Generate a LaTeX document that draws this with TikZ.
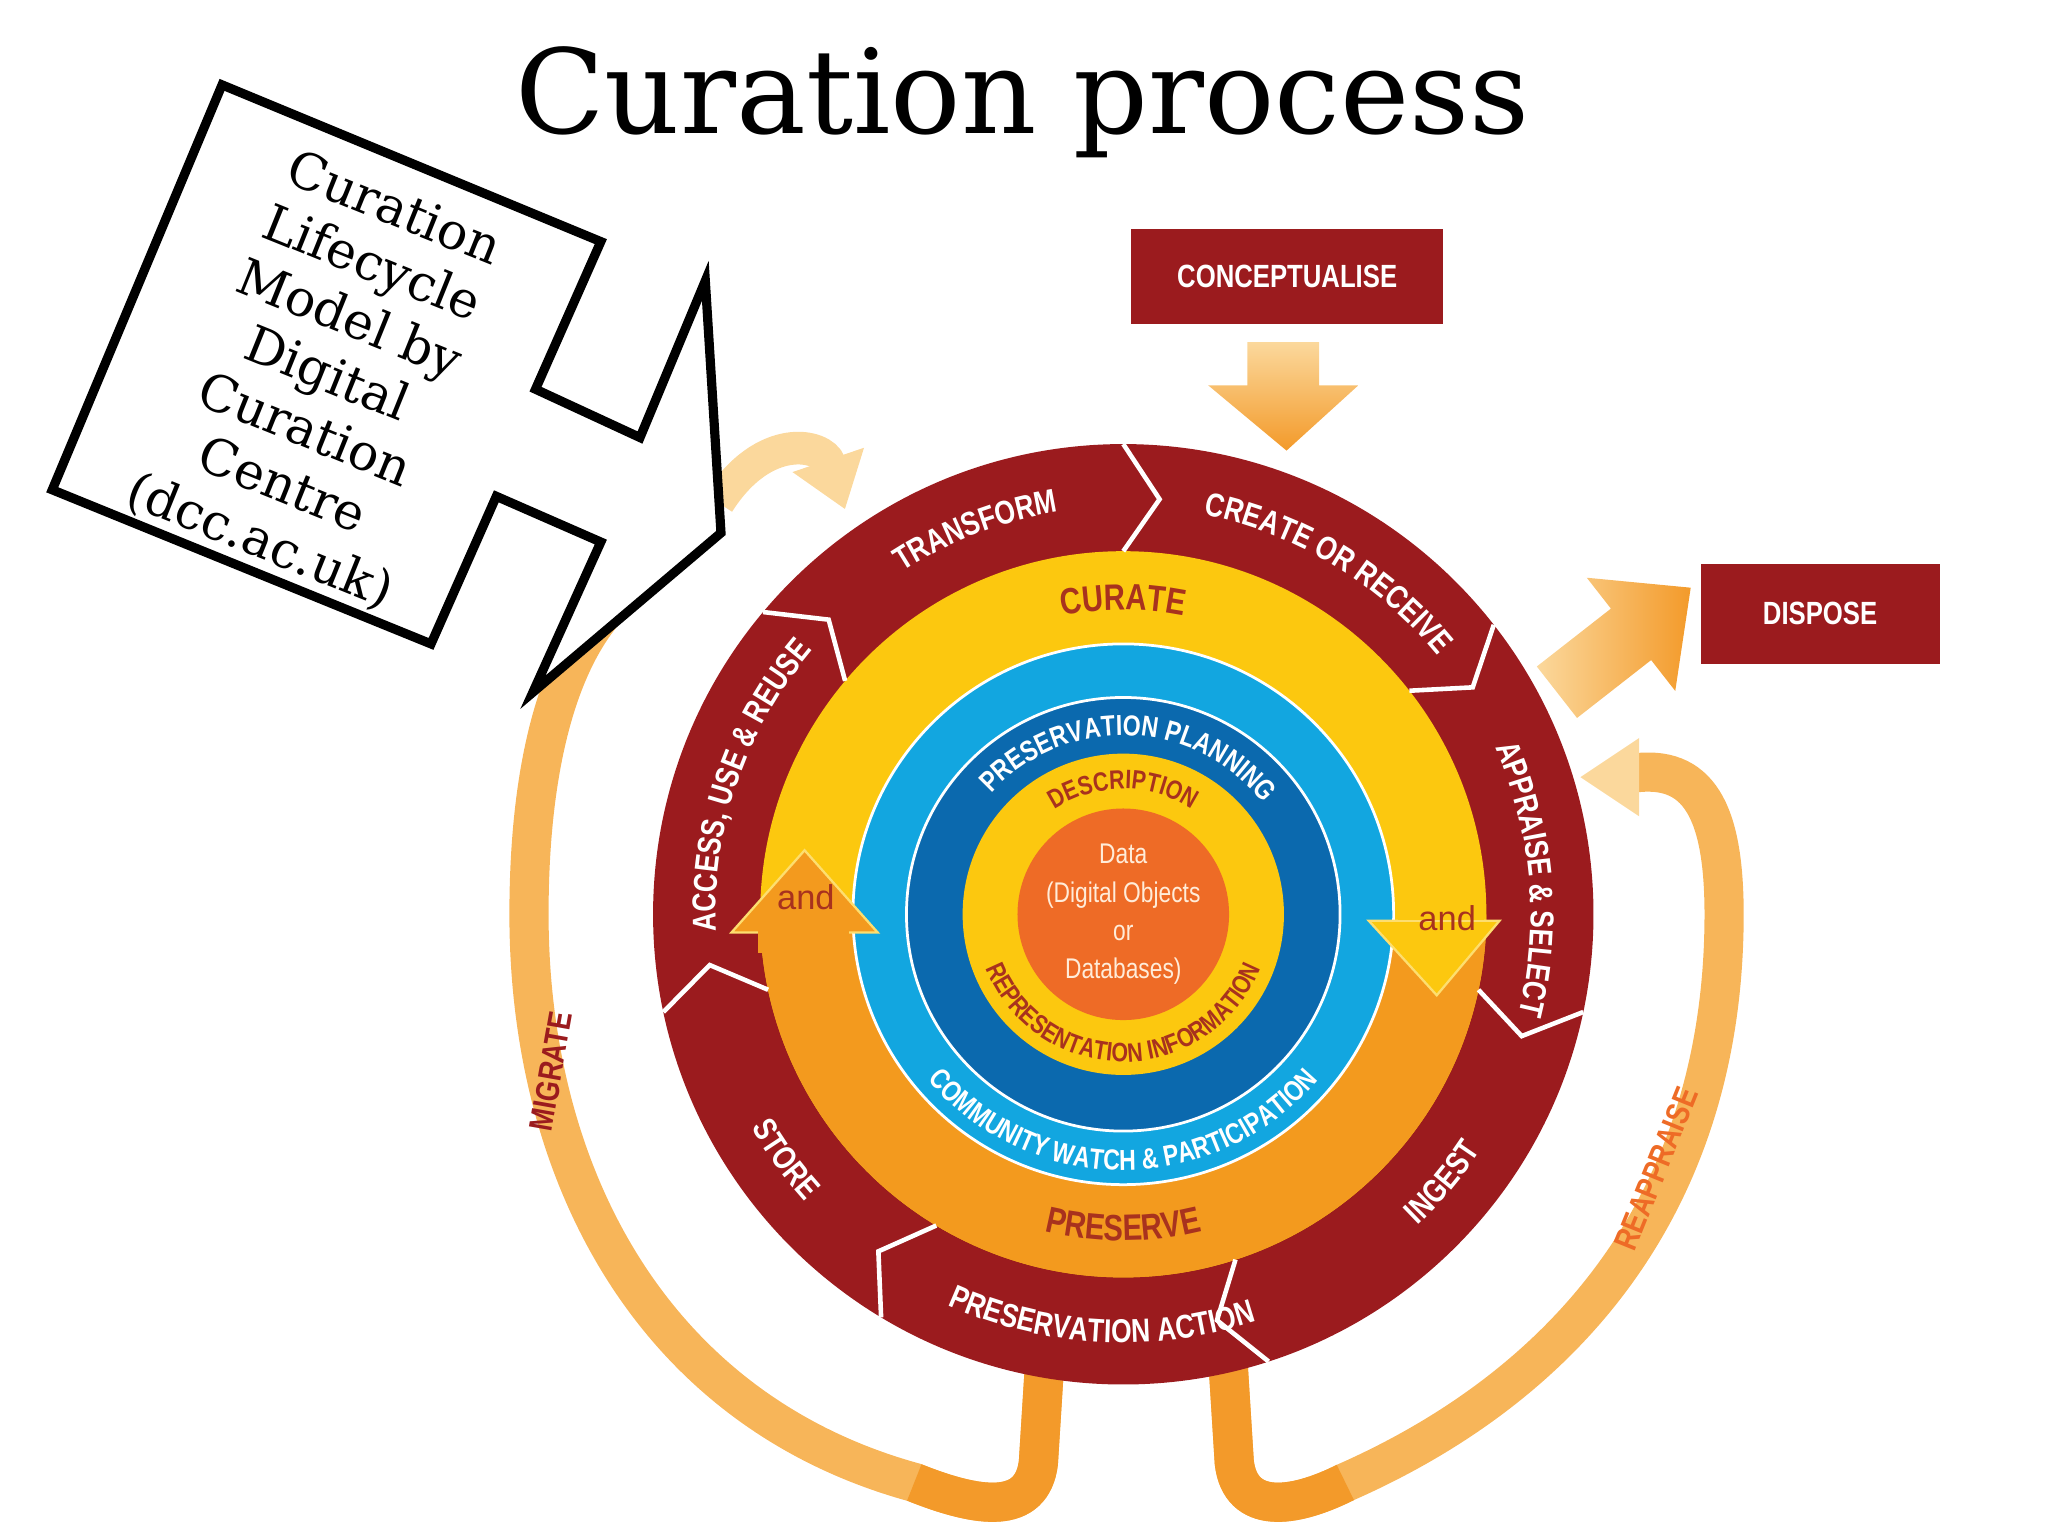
\documentclass[tikz,border=0pt]{standalone}
\usepackage{fontspec}
\setmainfont{DejaVu Serif}
\setsansfont{Liberation Sans}
\newfontfamily\cond[FakeStretch=0.8]{Liberation Sans}
\usetikzlibrary{decorations.text,arrows.meta}
\definecolor{dred}{HTML}{9B1B1E}
\definecolor{ylw}{HTML}{FCC80F}
\definecolor{lblue}{HTML}{12A6E0}
\definecolor{dblue}{HTML}{0B69AE}
\definecolor{orng}{HTML}{F39A1E}
\definecolor{corng}{HTML}{EE6B26}
\definecolor{txtred}{HTML}{A8321E}
\definecolor{bandA}{HTML}{FBD89C}
\definecolor{bandB}{HTML}{F7B559}
\definecolor{bandC}{HTML}{F39A2A}
\newcommand\arclabel[5]{\path[decorate,decoration={text along path,text align=center,text={|#4|#5}}] ([shift={(#1:#3)}]C) arc[start angle=#1,end angle=#2,radius=#3];}
\newcommand\chev[1]{\draw[white,line width=1pt] ([shift={(#1:2.78)}]C) -- ([shift={(#1-5:3.19)}]C) -- ([shift={(#1:3.6)}]C);}
\newcommand\redf{\color{white}\cond\bfseries\fontsize{7.2}{9}\selectfont}
\tikzset{band/.style={line width=0.3cm,line cap=butt},
  box/.style={fill=dred,text=white,font=\cond\bfseries\fontsize{7}{9}\selectfont,inner sep=0pt}}
\begin{document}
\begin{tikzpicture}
\useasboundingbox (0,0) rectangle (15.68,-11.76);
\coordinate (C) at (8.6,-7.0);
% title
\node (title) at (7.83,-0.78) {\fontsize{25.5}{30}\selectfont Curation process};
% bands behind
\draw[band,bandB] (8.0,-10.4) -- (7.95,-11.2) .. controls (7.9,-11.6) and (7.5,-11.55) .. (7.0,-11.35) .. controls (5.0,-10.8) and (4.05,-9.0) .. (4.05,-7.0) .. controls (4.05,-5.8) and (4.3,-5.0) .. (4.7,-4.6);
\draw[band,bandC] (8.0,-10.4) -- (7.95,-11.2) .. controls (7.9,-11.6) and (7.5,-11.55) .. (7.0,-11.35);
\draw[line width=0.25cm,bandA,-{Triangle[length=0.4cm,width=0.55cm]}] (5.5,-3.85) .. controls (5.85,-3.3) and (6.3,-3.4) .. (6.47,-3.9);
\draw[band,bandB] (9.4,-10.4) -- (9.45,-11.2) .. controls (9.5,-11.6) and (9.9,-11.55) .. (10.3,-11.35) .. controls (12.0,-10.6) and (13.2,-9.2) .. (13.2,-7.0) .. controls (13.2,-6.2) and (13.0,-5.85) .. (12.5,-5.92);
\draw[band,bandC] (9.4,-10.4) -- (9.45,-11.2) .. controls (9.5,-11.6) and (9.9,-11.55) .. (10.3,-11.35);
\fill[bandA] (12.55,-5.65) -- (12.1,-5.95) -- (12.55,-6.25) -- cycle;
\node (mig) at (4.22,-8.2) [rotate=80,text=dred,font=\cond\bfseries\fontsize{7.2}{9}\selectfont] {MIGRATE};
\node (reap) at (12.68,-8.95) [rotate=68,text=corng,font=\cond\bfseries\fontsize{7.2}{9}\selectfont] {REAPPRAISE};
% rings
\fill[dred] (C) circle (3.6);
\fill[ylw] (C) circle (2.78);
\fill[orng] ([shift={(180:2.78)}]C) arc[start angle=180,end angle=360,radius=2.78] -- ([shift={(0:2.07)}]C) arc[start angle=360,end angle=180,radius=2.07] -- cycle;
\fill[lblue,draw=white,line width=0.6pt] (C) circle (2.07);
\fill[dblue,draw=white,line width=0.6pt] (C) circle (1.66);
\fill[ylw] (C) circle (1.23);
\fill[corng] (C) circle (0.81);
% and arrows
\fill[orng] (5.8,-7.0) rectangle (6.5,-7.16);
\fill[orng,draw=ylw!60!white,line width=0.5pt] (5.6,-7.14) -- (6.16,-6.51) -- (6.72,-7.14) -- cycle;
\fill[orng] (5.8,-7.12) rectangle (6.5,-7.3);
\fill[ylw] (10.68,-6.85) rectangle (11.38,-7.06);
\fill[ylw,draw=ylw!60!white,line width=0.5pt] (10.48,-7.05) -- (11.0,-7.62) -- (11.48,-7.05) -- cycle;
\fill[ylw] (10.7,-6.85) rectangle (11.36,-7.04);
\node (and1) at (6.17,-6.87) [text=txtred,font=\sffamily\fontsize{7.5}{9}\selectfont] {and};
\node (and2) at (11.08,-7.03) [text=txtred,font=\sffamily\fontsize{7.5}{9}\selectfont] {and};
\node (data) at (C) [align=center,text=white!85!orange,font=\cond\fontsize{6.2}{8.3}\selectfont] {Data\\(Digital Objects\\or\\Databases)};
% chevrons
\chev{90}\chev{38}\chev{-12}\chev{-72}\chev{-121}\chev{192}\chev{140}
% red ring labels
\arclabel{141}{81}{3.12}{\redf}{TRANSFORM}
\arclabel{95}{23}{3.12}{\redf}{CREATE OR RECEIVE}
\arclabel{40}{-30}{3.12}{\redf}{APPRAISE {\&} SELECT}
\arclabel{-60}{-20}{3.28}{\redf}{INGEST}
\arclabel{-128}{-58}{3.28}{\redf}{PRESERVATION ACTION}
\arclabel{196}{236}{3.28}{\redf}{STORE}
\arclabel{198}{124}{3.12}{\redf}{ACCESS, USE {\&} REUSE}
\arclabel{115}{65}{2.33}{\color{txtred}\cond\bfseries\fontsize{8}{10}\selectfont}{CURATE}
\arclabel{-120}{-60}{2.5}{\color{txtred}\cond\bfseries\fontsize{8}{10}\selectfont}{PRESERVE}
\arclabel{170}{6}{1.37}{\color{white}\cond\bfseries\fontsize{6.3}{8}\selectfont}{PRESERVATION PLANNING}
\arclabel{140}{40}{0.96}{\color{txtred}\cond\bfseries\fontsize{5.8}{7}\selectfont}{DESCRIPTION}
\arclabel{-185}{5}{1.13}{\color{txtred}\cond\bfseries\fontsize{5.8}{7}\selectfont}{REPRESENTATION INFORMATION}
\arclabel{-170}{-10}{1.96}{\color{white}\cond\bfseries\fontsize{6.3}{8}\selectfont}{COMMUNITY WATCH {\&} PARTICIPATION}
% top boxes and arrows
\node (concept) [box,minimum width=2.39cm,minimum height=0.73cm] at (9.855,-2.115) {CONCEPTUALISE};
\node (dispose) [box,minimum width=1.83cm,minimum height=0.76cm] at (13.935,-4.7) {DISPOSE};
\shade[top color=bandA,bottom color=bandC] (9.55,-2.62) -- (10.1,-2.62) -- (10.1,-2.95) -- (10.4,-2.95) -- (9.85,-3.45) -- (9.25,-2.95) -- (9.55,-2.95) -- cycle;
\begin{scope}[shift={(11.92,-5.3)},rotate=38]
\shade[left color=bandA,right color=bandC] (0,-0.25) -- (0.72,-0.25) -- (0.72,-0.55) -- (1.3,0) -- (0.72,0.55) -- (0.72,0.25) -- (0,0.25) -- cycle;
\end{scope}
% callout
\draw[line width=2pt,fill=white,line join=miter] (1.7,-0.65) -- (4.6,-1.85) -- (4.1,-2.98) -- (4.9,-3.35) -- (5.4,-2.15) -- (5.52,-4.08) -- (4.08,-5.3) -- (4.6,-4.15) -- (3.8,-3.8) -- (3.3,-4.93) -- (0.4,-3.75) -- cycle;
\node (callout) at (2.5,-2.88) [rotate=-22,align=center,font=\fontsize{11}{13}\selectfont] {Curation\\Lifecycle\\Model by\\Digital\\Curation\\Centre\\(dcc.ac.uk)};
\end{tikzpicture}
\end{document}
